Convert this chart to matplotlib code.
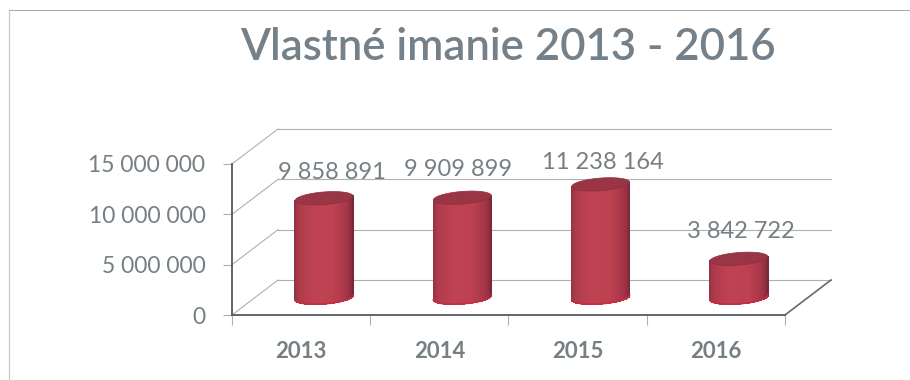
import numpy as np
import matplotlib
matplotlib.use("Agg")
import matplotlib.pyplot as plt
from matplotlib.collections import PolyCollection
from matplotlib.colors import LinearSegmentedColormap
from matplotlib.patches import Polygon
from matplotlib.transforms import Affine2D, IdentityTransform

# Equity per year
years = ["2013", "2014", "2015", "2016"]
equity = [9858891, 9909899, 11238164, 3842722]
value_labels = ["9 858 891", "9 909 899", "11 238 164", "3 842 722"]
label_shift = [(8, 19), (-4, 22), (2, 15), (2, 21)]

y_ticks = [0, 5000000, 10000000, 15000000]
y_tick_labels = ["0", "5 000 000", "10 000 000", "15 000 000"]

title_text = "Vlastné imanie 2013 - 2016"

W, H = 910, 380
TEXT = "#767f83"
GRID = "#b0b0b0"
AXIS = "#55595c"
FONT = "Lato"

fig = plt.figure(figsize=(W / 100, H / 100), dpi=100, facecolor="white")
ax = fig.add_axes([232 / W, 1 - 315 / H, 553 / W, 151 / H])
ax.set_xlim(0, 4)
ax.set_ylim(0, 15000000)
ax.patch.set_visible(False)
for side in ("top", "right"):
    ax.spines[side].set_visible(False)
for side in ("left", "bottom"):
    ax.spines[side].set_color(AXIS)
    ax.spines[side].set_linewidth(1.3)

ax.set_yticks(y_ticks)
ax.set_yticklabels(y_tick_labels, fontsize=16.5, color=TEXT, family=FONT)
ax.set_xticks(range(5))
ax.set_xticklabels([])
ax.tick_params(axis="y", length=6.5, width=0.8, color=GRID, pad=12.6)
ax.tick_params(axis="x", length=7, width=0.8, color=GRID)

# Depth of the 3D box in pixels
DEPTH = (46, 35)
back = ax.transData + Affine2D().translate(*DEPTH)
mid = ax.transData + Affine2D().translate(DEPTH[0] / 2, DEPTH[1] / 2)

# Back wall, side wall and floor
for v in y_ticks:
    ax.plot([0, 4], [v, v], transform=back, color=GRID, lw=0.8, clip_on=False, zorder=1)
    p0 = ax.transData.transform((0, v))
    ax.plot([p0[0], p0[0] + DEPTH[0]], [p0[1], p0[1] + DEPTH[1]],
            transform=IdentityTransform(), color=GRID, lw=0.8, clip_on=False, zorder=1)
p1 = ax.transData.transform((4, 0))
ax.plot([p1[0], p1[0] + DEPTH[0]], [p1[1], p1[1] + DEPTH[1]],
        transform=IdentityTransform(), color="#65696c", lw=1.2, clip_on=False, zorder=1)

# Cylinders
shade = LinearSegmentedColormap.from_list(
    "cyl", ["#8a2f3f", "#af3b4c", "#bf4252", "#be4151", "#a43547", "#7a2736"])
A, B, TILT = 29.0, 6.3, np.deg2rad(4.5)


def rim(cx, cy, t):
    x = A * np.cos(t)
    y = B * np.sin(t)
    return np.column_stack((cx + x * np.cos(TILT) - y * np.sin(TILT),
                            cy + x * np.sin(TILT) + y * np.cos(TILT)))


for i, v in enumerate(equity):
    (bx, by) = mid.transform((i + 0.5, 0))
    (tx, ty) = mid.transform((i + 0.5, v))
    edges = np.linspace(np.pi, 2 * np.pi, 121)
    low_top, low_bot = rim(tx, ty, edges), rim(bx, by, edges)
    quads = [[low_top[k], low_top[k + 1], low_bot[k + 1], low_bot[k]] for k in range(120)]
    shades = shade(np.linspace(0, 1, 120))
    ax.add_collection(PolyCollection(quads, facecolors=shades, edgecolors=shades, linewidths=0.5,
                                     antialiaseds=False, transform=IdentityTransform(),
                                     clip_on=False, zorder=3))
    whole = np.linspace(0, 2 * np.pi, 90)
    ax.add_patch(Polygon(rim(tx, ty, whole), closed=True, facecolor="#9a3546", edgecolor="#8a2f3f",
                         lw=0.5, transform=IdentityTransform(), clip_on=False, zorder=4))
    ax.plot(low_bot[:, 0], low_bot[:, 1], color="#c62c42", lw=1.2,
            transform=IdentityTransform(), clip_on=False, zorder=4)

    # Value above the column, and year under the floor
    ax.annotate(value_labels[i], xy=(tx, ty), xycoords=IdentityTransform(),
                xytext=label_shift[i], textcoords="offset pixels",
                ha="center", va="baseline", fontsize=17, color=TEXT, family=FONT, zorder=5,
                annotation_clip=False)
    ax.annotate(years[i], xy=(i + 0.5, 0), xycoords="data", xytext=(0, -43),
                textcoords="offset pixels", ha="center", va="baseline", fontsize=16,
                fontweight="bold", color=TEXT, family=FONT, annotation_clip=False)

# Chart frame: left and top edges only
fig.add_artist(plt.Line2D([9 / W, 9 / W], [0, 1 - 10 / H], color="#c8c8c8", lw=0.9,
                          transform=fig.transFigure))
fig.add_artist(plt.Line2D([9 / W, 1], [1 - 10 / H, 1 - 10 / H], color="#a8a8a8", lw=0.7,
                          transform=fig.transFigure))

fig.text(508 / W, 1 - 60 / H, title_text, ha="center", va="baseline", fontsize=31.5,
         fontweight="semibold", color="#74818a", family=FONT)

fig.savefig("out.png", dpi=100, facecolor="white")
